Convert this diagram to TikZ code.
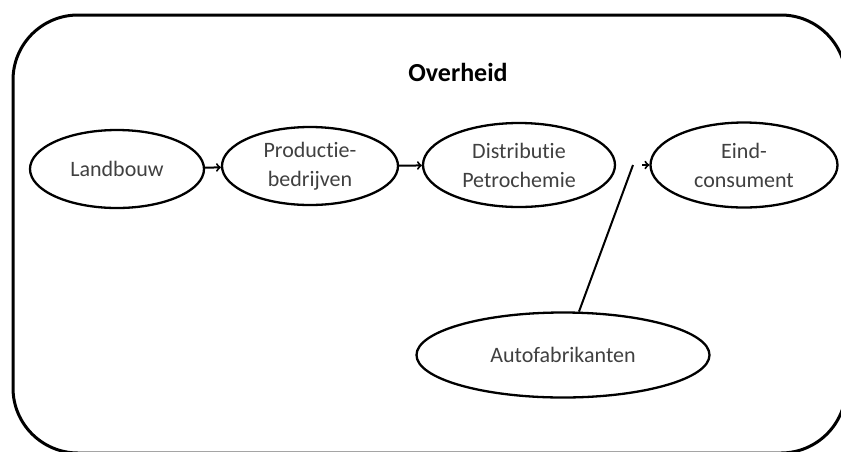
\documentclass[tikz,border=0pt]{standalone}
\usepackage{fontspec}
\setmainfont{Carlito}[Ligatures=NoCommon]
\usetikzlibrary{shapes.geometric}
\definecolor{labelgray}{RGB}{64,64,64}

\begin{document}
\begin{tikzpicture}[x=1pt,y=-1pt]

% definitions
\tikzstyle{actor} = [ellipse, draw=black, line width=2.3pt, fill=white, inner sep=0pt, text centered, align=center, text=labelgray, font=\fontsize{22}{29}\selectfont]

\tikzstyle{title} = [text=black, font=\fontsize{26}{30}\selectfont\bfseries]

\tikzstyle{arrow} = [->,>=to, line width=2pt]

\useasboundingbox (0,0) rectangle (841,451);

% frame
\draw [line width=3pt, rounded corners=65pt] (13,15) rectangle (846,453);

% the graph
\node (overheid) [title] at (458,72) {Overheid};

\node (land) [actor, minimum width=174pt, minimum height=78pt] at (117,169) {Landbouw};

\node (prod) [actor, minimum width=176pt, minimum height=78pt] at (310,166) {Productie-\\bedrijven};

\node (dist) [actor, minimum width=192pt, minimum height=84pt] at (519,165) {Distributie\\Petrochemie};

\node (eind) [actor, minimum width=187pt, minimum height=85pt] at (744,165) {Eind-\\consument};

\node (auto) [actor, minimum width=293pt, minimum height=85pt] at (563,355) {Autofabrikanten};

\coordinate (bend) at (633,165);
\coordinate (tip) at (642,165);

\draw [arrow] (land) -- (prod);
\draw [arrow] (prod) -- (dist);
\draw [line width=2pt] (auto) -- (bend);
\draw [arrow] (tip) -- (eind);

\end{tikzpicture}
\end{document}
